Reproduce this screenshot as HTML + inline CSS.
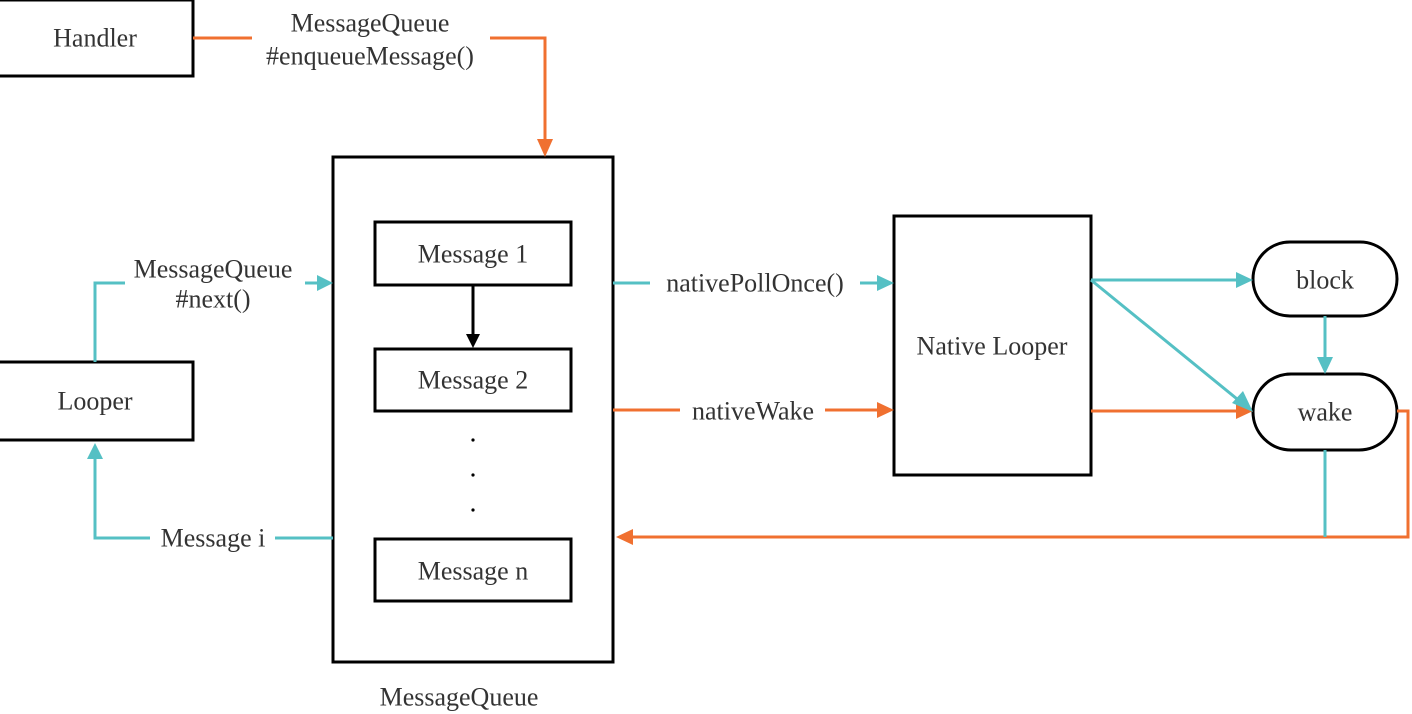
<!DOCTYPE html>
<html><head><meta charset="utf-8"><style>
html,body{margin:0;padding:0;background:#fff;}
svg{display:block;}
text{font-family:"Liberation Serif",serif;font-size:26px;fill:#333;text-anchor:middle;dominant-baseline:central;}
</style></head><body>
<svg width="1412" height="714" viewBox="0 0 1412 714" xmlns="http://www.w3.org/2000/svg">
<g fill="none" stroke="#000" stroke-width="3">
<rect x="-3" y="0" width="196" height="76"/>
<rect x="333" y="157" width="280" height="505"/>
<rect x="375" y="222" width="196" height="63"/>
<rect x="375" y="349" width="196" height="62"/>
<rect x="375" y="539" width="196" height="62"/>
<rect x="-3" y="362" width="196" height="78"/>
<rect x="894" y="216" width="197" height="259"/>
<rect x="1253" y="242" width="144" height="74" rx="37"/>
<rect x="1253" y="374" width="144" height="76" rx="38"/>
<line x1="473" y1="285" x2="473" y2="336"/>
</g>
<path d="M466,334 L480,334 L473,348 z" fill="#000"/>
<g fill="#000"><circle cx="473" cy="440" r="1.6"/><circle cx="473" cy="475" r="1.6"/><circle cx="473" cy="510" r="1.6"/></g>
<g fill="none" stroke="#f07030" stroke-width="3">
<polyline points="193,38 252,38"/>
<polyline points="490,38 545,38 545,142"/>
<polyline points="613,410 680,410"/>
<polyline points="825,410 880,410"/>
<polyline points="1091,411 1240,411"/>
<polyline points="1397,411 1408,411 1408,537 630,537"/>
</g>
<g fill="#f07030">
<path d="M537,139 L553,139 L545,157 z"/>
<path d="M877,402 L877,418 L894,410 z"/>
<path d="M1236,403 L1236,419 L1253,411 z"/>
<path d="M633,529 L633,545 L616,537 z"/>
</g>
<g fill="none" stroke="#55c0c4" stroke-width="3">
<polyline points="95,362 95,283 125,283"/>
<polyline points="305,283 320,283"/>
<polyline points="333,538 275,538"/>
<polyline points="150,538 95,538 95,456"/>
<polyline points="613,283 650,283"/>
<polyline points="860,283 880,283"/>
<polyline points="1091,280 1240,280"/>
<polyline points="1091,280 1242,403"/>
<polyline points="1325,316 1325,360"/>
<polyline points="1325,450 1325,537"/>
</g>
<g fill="#55c0c4">
<path d="M317,275 L317,291 L333,283 z"/>
<path d="M87,459 L103,459 L95,443 z"/>
<path d="M877,275 L877,291 L894,283 z"/>
<path d="M1236,272 L1236,288 L1253,280 z"/>
<path d="M1317,357 L1333,357 L1325,374 z"/>
<path d="M1232,403 L1243,391 L1253,412 z"/>
</g>
<text x="95" y="38">Handler</text>
<text x="370" y="23">MessageQueue</text>
<text x="370" y="56">#enqueueMessage()</text>
<text x="473" y="254">Message 1</text>
<text x="473" y="380">Message 2</text>
<text x="473" y="571">Message n</text>
<text x="95" y="401">Looper</text>
<text x="213" y="269">MessageQueue</text>
<text x="213" y="299">#next()</text>
<text x="213" y="538">Message i</text>
<text x="755" y="283">nativePollOnce()</text>
<text x="753" y="411">nativeWake</text>
<text x="992" y="346">Native Looper</text>
<text x="1325" y="280">block</text>
<text x="1325" y="412">wake</text>
<text x="459" y="697">MessageQueue</text>
</svg>
</body></html>
